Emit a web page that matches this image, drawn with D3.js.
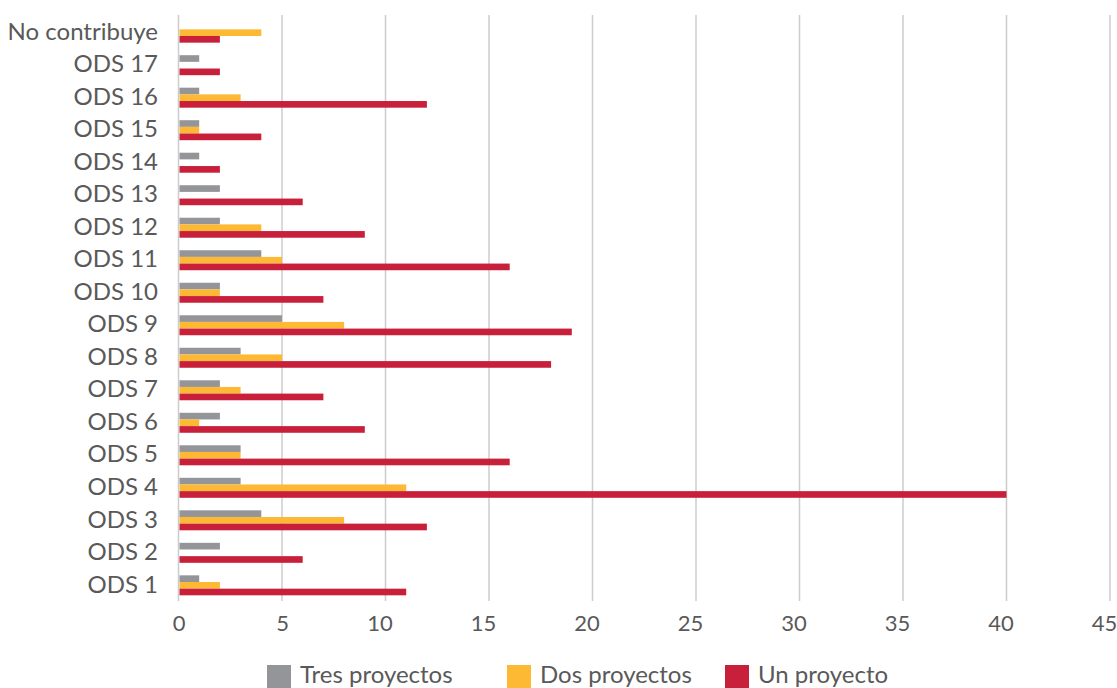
<!DOCTYPE html>
<html>
<head>
<meta charset="utf-8">
<script src="https://cdn.jsdelivr.net/npm/d3@7"></script>
<style>
  body { margin: 0; background: #fff; overflow: hidden; }
  svg text { font-family: Lato, "Open Sans", sans-serif; fill: #595959; }
</style>
</head>
<body>
<svg id="chart" width="1117" height="688"></svg>
<script>
// categorías de arriba hacia abajo
const categorias = ["No contribuye","ODS 17","ODS 16","ODS 15","ODS 14","ODS 13","ODS 12","ODS 11",
                    "ODS 10","ODS 9","ODS 8","ODS 7","ODS 6","ODS 5","ODS 4","ODS 3","ODS 2","ODS 1"];
const tresProyectos = [0,1,1,1,1,2,2,4,2,5,3,2,2,3,3,4,2,1];
const dosProyectos  = [4,0,3,1,0,0,4,5,2,8,5,3,1,3,11,8,0,2];
const unProyecto    = [2,2,12,4,2,6,9,16,7,19,18,7,9,16,40,12,6,11];
const series  = ["Tres proyectos","Dos proyectos","Un proyecto"];
const colores = ["#939598","#FDB933","#C8203B"];
const ticksX  = [0,5,10,15,20,25,30,35,40,45];

const valores = [tresProyectos, dosProyectos, unProyecto];
const svg = d3.select("#chart");

const x = d3.scaleLinear().domain([0, 45]).range([178.5, 1110]);
const y = d3.scaleBand().domain(categorias).range([16.5, 601.5]).paddingInner(0.385).paddingOuter(0.19);
const ySub = d3.scaleBand().domain(series).range([0, y.bandwidth()]);

// rejilla vertical
svg.append("g")
  .selectAll("line")
  .data(ticksX)
  .join("line")
  .attr("x1", d => x(d)).attr("x2", d => x(d))
  .attr("y1", 15).attr("y2", 601)
  .attr("stroke", "#cccccc")
  .attr("stroke-width", 1.5);

// eje x
const ejeX = svg.append("g")
  .attr("transform", "translate(0,601)")
  .call(d3.axisBottom(x).tickValues(ticksX).tickSize(0).tickPadding(14));
ejeX.select(".domain").remove();
ejeX.selectAll("text")
  .attr("font-size", 22)
  .attr("dx", d => d >= 10 ? -6 : 0)
  .style("fill", "#595959");

// eje y
const ejeY = svg.append("g")
  .attr("transform", "translate(158,0)")
  .call(d3.axisLeft(y).tickSize(0).tickPadding(0));
ejeY.select(".domain").remove();
ejeY.selectAll("text").attr("font-size", 24).style("fill", "#595959").attr("dy", "0.3em");

// barras
const grupos = svg.append("g")
  .selectAll("g")
  .data(series)
  .join("g")
  .attr("fill", (s, i) => colores[i]);

grupos.selectAll("rect")
  .data((s, i) => categorias.map((c, j) => ({ serie: s, cat: c, v: valores[i][j] })).filter(d => d.v > 0))
  .join("rect")
  .attr("x", x(0) + 1)
  .attr("y", d => y(d.cat) + ySub(d.serie))
  .attr("width", d => x(d.v) - x(0) - 1)
  .attr("height", ySub.bandwidth());

// leyenda
const leyendaX = [267, 507, 725];
const leyenda = svg.append("g")
  .selectAll("g")
  .data(series)
  .join("g")
  .attr("transform", (s, i) => "translate(" + leyendaX[i] + ",665)");
leyenda.append("rect").attr("width", 24).attr("height", 23).attr("fill", (s, i) => colores[i]);
leyenda.append("text").attr("x", 33).attr("y", 18)
  .attr("font-size", 24).text(s => s);
</script>
</body>
</html>
